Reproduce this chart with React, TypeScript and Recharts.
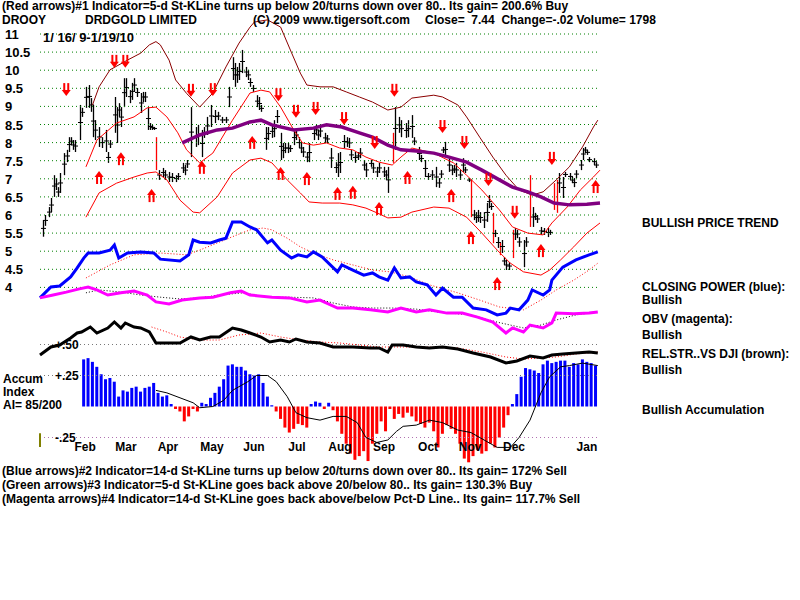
import React from "react";
import { ComposedChart, Line, Bar, Scatter, XAxis, YAxis, ReferenceLine } from "recharts";

const FONT = '"Liberation Sans", Arial, sans-serif';
const RED = "#ff0000";
const BLUE = "#0000ff";

// x = trading day counted from 1/16/09
const barDay = [1, 2, 4, 5, 6, 7, 8, 9, 11, 12, 13, 14, 15, 16, 18, 19, 21, 22, 23, 24, 25, 27, 28, 30, 31, 32, 34, 35, 36, 37, 38, 39, 41, 42, 43, 44, 46, 47, 48, 49, 50, 51, 52, 54, 56, 57, 59, 60, 62, 63, 65, 66, 67, 69, 71, 72, 74, 75, 76, 78, 80, 81, 83, 85, 86, 88, 89, 90, 91, 92, 94, 95, 96, 97, 99, 100, 101, 103, 104, 106, 107, 108, 110, 111, 112, 113, 114, 116, 117, 118, 119, 120, 122, 123, 125, 126, 127, 128, 130, 131, 133, 135, 136, 137, 139, 140, 141, 142, 144, 145, 146, 148, 149, 151, 152, 154, 155, 157, 158, 159, 162, 164, 165, 167, 168, 170, 171, 173, 174, 176, 177, 179, 181, 182, 183, 184, 185, 187, 188, 189, 190, 192, 193, 194, 196, 198, 199, 200, 201, 203, 204, 205, 206, 208, 209, 211, 212, 213, 214, 217, 218, 219, 221, 222, 225, 226, 227, 229, 230, 232, 233, 237, 239, 240, 242, 243, 244, 245, 247, 248, 249, 250, 251, 253, 254];
const barHigh = [5.86, 6.0, 6.22, 6.47, 7.1, 7.02, 6.77, 7.16, 7.71, 7.8, 8.15, 8.15, 8.07, 8.07, 9.04, 8.96, 9.54, 9.59, 9.23, 9.04, 8.62, 8.43, 8.15, 8.35, 7.74, 8.07, 9.26, 8.98, 9.09, 8.98, 9.78, 9.78, 9.45, 9.65, 9.78, 9.51, 9.37, 9.4, 9.4, 8.98, 8.54, 8.49, 8.43, 7.24, 7.3, 7.24, 7.19, 7.16, 7.1, 7.16, 7.44, 7.38, 7.52, 8.98, 8.43, 8.49, 8.35, 8.43, 8.71, 9.04, 8.9, 8.85, 8.71, 8.71, 9.54, 10.36, 10.2, 10.09, 10.2, 10.56, 10.09, 10.01, 9.78, 9.59, 9.31, 9.26, 9.04, 8.43, 8.43, 8.49, 8.62, 8.9, 8.27, 7.99, 7.99, 7.99, 7.93, 8.35, 8.35, 8.15, 7.99, 7.88, 7.74, 7.99, 8.43, 8.49, 8.35, 8.49, 8.27, 8.21, 7.85, 7.46, 7.71, 7.74, 8.21, 8.15, 8.13, 7.8, 7.74, 7.74, 7.85, 7.52, 7.44, 7.52, 7.44, 7.33, 7.44, 7.33, 7.24, 7.33, 8.98, 8.71, 8.62, 8.54, 8.62, 8.76, 8.15, 7.88, 7.66, 7.52, 7.16, 7.24, 7.33, 7.02, 7.24, 7.88, 8.02, 7.57, 7.38, 7.38, 7.44, 7.24, 7.57, 7.33, 7.02, 6.14, 6.08, 6.14, 6.08, 6.08, 6.33, 6.55, 6.33, 5.59, 5.39, 5.31, 4.84, 4.76, 4.7, 5.64, 5.59, 5.39, 5.31, 5.39, 6.22, 6.06, 6.0, 5.67, 5.64, 5.64, 5.59, 7.16, 7.05, 7.19, 7.16, 7.05, 7.02, 7.24, 7.52, 7.85, 7.88, 7.8, 7.6, 7.57, 7.46];
const barLow = [5.4, 5.7, 5.94, 6.08, 6.5, 6.69, 6.5, 6.61, 7.1, 7.46, 7.74, 7.93, 7.8, 7.74, 8.07, 8.71, 8.96, 8.96, 8.85, 8.15, 8.07, 7.88, 7.85, 7.74, 7.44, 7.85, 8.27, 7.99, 8.71, 8.43, 8.98, 9.26, 9.09, 9.18, 9.4, 9.26, 8.82, 9.12, 9.12, 8.35, 8.35, 8.35, 8.35, 6.97, 7.05, 6.97, 6.91, 6.91, 6.91, 6.97, 7.16, 7.1, 7.3, 7.6, 7.88, 7.93, 7.6, 8.13, 8.21, 8.43, 8.54, 8.62, 8.54, 8.54, 8.98, 9.73, 9.54, 9.65, 9.73, 9.92, 9.81, 9.73, 9.54, 9.4, 8.98, 8.9, 8.85, 7.8, 8.07, 8.13, 8.15, 8.54, 7.52, 7.57, 7.71, 7.71, 7.74, 7.93, 8.07, 7.85, 7.71, 7.6, 7.46, 7.46, 8.07, 8.21, 8.07, 8.15, 7.99, 7.99, 7.3, 7.16, 7.05, 7.16, 7.85, 7.88, 7.85, 7.52, 7.44, 7.52, 7.57, 7.24, 7.05, 7.33, 7.16, 7.05, 7.16, 7.05, 6.97, 6.61, 7.8, 8.27, 8.15, 8.13, 8.15, 8.13, 7.93, 7.52, 7.46, 7.05, 6.97, 6.97, 6.77, 6.75, 7.02, 7.71, 7.6, 7.19, 7.1, 7.16, 7.05, 6.97, 7.19, 7.16, 6.91, 5.86, 5.78, 5.81, 5.78, 5.64, 5.81, 6.19, 6.14, 5.39, 5.09, 4.95, 4.62, 4.48, 4.48, 5.31, 5.36, 5.12, 4.56, 5.12, 5.67, 5.86, 5.78, 5.45, 5.45, 5.39, 5.45, 6.61, 6.47, 7.05, 6.97, 6.88, 6.77, 7.02, 7.24, 7.52, 7.71, 7.66, 7.46, 7.38, 7.3];

// bars drawn red on signal days
const sigDay = [53, 161, 197, 207, 210, 216, 224, 235, 236];
const sigHigh = [8.15, 8.27, 6.97, 6.06, 5.23, 5.59, 7.1, 6.88, 6.97];
const sigLow = [7.24, 7.44, 5.94, 5.22, 4.89, 4.81, 5.67, 6.14, 6.06];

const downDay = [12, 34, 39, 69, 79, 109, 117, 126, 139, 153, 162, 184, 194, 205, 217, 234];
const downVal = [9.45, 10.23, 10.23, 9.43, 9.45, 9.31, 8.85, 8.93, 8.65, 7.99, 9.43, 8.43, 7.99, 6.97, 6.06, 7.55];
const upDay = [27, 37, 51, 74, 97, 110, 122, 136, 143, 155, 168, 188, 197, 209, 229, 254];
const upVal = [7.05, 7.57, 6.55, 7.33, 8.02, 7.16, 7.02, 6.61, 6.64, 6.19, 7.05, 6.55, 5.39, 4.12, 5.03, 6.8];

const outerDay = [24, 27, 32, 40, 46, 50, 53, 55, 59, 62, 67, 73, 79, 85, 91, 96, 98, 104, 110, 115, 119, 122, 128, 134, 140, 146, 152, 159, 165, 170, 180, 184, 191, 195, 201, 207, 213, 219, 225, 230, 236, 242, 248, 253, 255];
const outerVal = [9.04, 9.54, 10.01, 10.28, 10.47, 10.7, 10.79, 10.7, 10.28, 9.73, 9.36, 8.98, 9.37, 10.09, 10.75, 11.19, 11.33, 11.39, 11.19, 10.48, 9.92, 9.59, 9.54, 9.54, 9.4, 9.26, 9.12, 8.9, 8.98, 9.23, 9.31, 9.26, 9.04, 8.71, 8.15, 7.6, 7.1, 6.69, 6.55, 6.64, 6.97, 7.33, 7.88, 8.43, 8.62];
const upperDay = [21, 26, 35, 43, 49, 53, 58, 63, 67, 73, 79, 88, 96, 101, 105, 110, 116, 120, 125, 131, 137, 143, 149, 155, 161, 165, 170, 180, 189, 195, 202, 210, 216, 223, 230, 234, 241, 247, 253, 256];
const upperVal = [7.33, 8.07, 8.54, 8.71, 8.96, 8.98, 8.71, 8.27, 7.8, 7.44, 7.71, 8.62, 9.37, 9.45, 9.4, 8.98, 8.35, 7.99, 7.93, 7.99, 7.85, 7.8, 7.6, 7.46, 7.38, 7.6, 7.85, 7.71, 7.44, 7.1, 6.69, 6.14, 5.67, 5.5, 5.45, 5.78, 6.22, 6.69, 7.05, 7.24];
const lowerDay = [21, 27, 35, 43, 49, 53, 58, 64, 70, 73, 81, 88, 96, 101, 106, 113, 119, 123, 129, 137, 143, 149, 154, 159, 165, 170, 180, 187, 195, 202, 209, 215, 221, 229, 233, 238, 244, 250, 256];
const lowerVal = [5.94, 6.61, 6.88, 7.05, 7.16, 7.19, 6.97, 6.41, 6.08, 6.06, 6.5, 7.16, 7.52, 7.57, 7.44, 6.97, 6.61, 6.36, 6.33, 6.33, 6.28, 6.19, 6.06, 5.92, 5.94, 6.08, 6.22, 6.19, 5.94, 5.5, 5.03, 4.67, 4.43, 4.34, 4.48, 4.76, 5.12, 5.5, 5.78];
const maDay = [65, 73, 81, 88, 96, 101, 106, 116, 125, 131, 138, 146, 152, 159, 165, 172, 180, 187, 195, 202, 210, 216, 223, 229, 235, 242, 250, 256];
const maVal = [7.99, 8.21, 8.35, 8.4, 8.57, 8.62, 8.49, 8.35, 8.4, 8.49, 8.43, 8.27, 8.15, 7.93, 7.8, 7.77, 7.71, 7.6, 7.46, 7.24, 6.97, 6.77, 6.64, 6.5, 6.33, 6.28, 6.3, 6.33];

// closing power (blue), drawn on the price scale
const cpDay = [0, 5, 9, 14, 17, 20, 22, 27, 32, 34, 36, 40, 46, 52, 55, 64, 68, 70, 73, 78, 82, 85, 88, 92, 96, 99, 104, 106, 110, 115, 118, 122, 125, 129, 136, 138, 143, 148, 152, 155, 159, 162, 165, 169, 172, 177, 181, 184, 189, 193, 198, 204, 209, 213, 215, 219, 223, 225, 230, 233, 234, 239, 245, 251, 255];
const cpVal = [3.71, 4.01, 4.04, 4.29, 4.54, 4.81, 4.95, 4.95, 5.03, 5.17, 4.81, 4.95, 4.98, 4.95, 4.78, 4.73, 4.9, 5.31, 5.25, 5.23, 5.31, 5.36, 5.81, 5.81, 5.67, 5.59, 5.23, 5.31, 5.03, 4.81, 4.9, 4.84, 4.98, 4.84, 4.43, 4.62, 4.48, 4.34, 4.4, 4.29, 4.2, 4.54, 4.26, 4.29, 4.15, 4.07, 3.79, 3.98, 3.73, 3.73, 3.43, 3.38, 3.24, 3.29, 3.43, 3.38, 3.65, 3.93, 3.79, 3.93, 4.2, 4.56, 4.76, 4.9, 4.98];
const cpMaDay = [21, 32, 43, 55, 67, 73, 82, 90, 96, 102, 106, 113, 119, 125, 134, 143, 152, 160, 169, 178, 191, 201, 210, 221, 229, 236, 244, 251, 255];
const cpMaVal = [4.26, 4.62, 4.9, 4.95, 4.9, 5.03, 5.25, 5.45, 5.59, 5.64, 5.59, 5.36, 5.12, 4.95, 4.76, 4.62, 4.48, 4.43, 4.29, 4.07, 3.85, 3.65, 3.46, 3.38, 3.65, 3.93, 4.2, 4.48, 4.67];

// OBV (magenta), price scale
const obvDay = [0, 6, 12, 18, 22, 26, 31, 37, 43, 49, 53, 59, 65, 73, 79, 87, 92, 96, 106, 114, 122, 128, 136, 143, 151, 159, 165, 172, 178, 186, 193, 200, 207, 213, 216, 221, 224, 230, 234, 236, 244, 251, 255];
const obvVal = [3.71, 3.79, 3.87, 3.96, 4.01, 3.93, 3.79, 3.85, 3.9, 3.79, 3.6, 3.54, 3.65, 3.71, 3.73, 3.85, 3.9, 3.79, 3.73, 3.71, 3.6, 3.65, 3.43, 3.43, 3.38, 3.32, 3.43, 3.32, 3.38, 3.29, 3.29, 3.18, 3.04, 2.74, 2.88, 2.77, 2.96, 2.88, 3.02, 3.29, 3.27, 3.29, 3.32];
const obvMaDay = [21, 27, 37, 46, 55, 64, 73, 82, 93, 104, 114, 125, 134, 143, 152, 161, 172, 182, 197, 209, 221, 229, 236, 245, 255];
const obvMaVal = [3.85, 3.93, 3.87, 3.79, 3.73, 3.68, 3.71, 3.79, 3.85, 3.73, 3.73, 3.71, 3.57, 3.46, 3.43, 3.43, 3.4, 3.32, 3.24, 3.04, 2.88, 2.96, 3.1, 3.24, 3.32];

// relative strength vs DJI
const rsDay = [0, 5, 9, 14, 17, 19, 23, 26, 31, 34, 37, 39, 43, 46, 50, 53, 58, 64, 69, 73, 78, 82, 88, 92, 96, 101, 105, 110, 114, 117, 122, 128, 134, 138, 143, 151, 155, 159, 161, 166, 172, 178, 184, 191, 198, 206, 213, 218, 224, 230, 234, 239, 245, 251, 255];
const rsVal = [0.95, 0.99, 1.0, 1.035, 1.06, 1.065, 1.09, 1.06, 1.085, 1.115, 1.085, 1.11, 1.09, 1.085, 1.065, 1.01, 1.01, 1.01, 1.04, 1.025, 1.04, 1.04, 1.085, 1.075, 1.06, 1.04, 1.015, 1.025, 1.015, 1.03, 1.015, 1.01, 0.99, 0.99, 0.99, 0.985, 0.985, 0.965, 1.0, 1.0, 0.99, 0.985, 0.99, 0.98, 0.96, 0.94, 0.91, 0.92, 0.945, 0.935, 0.95, 0.955, 0.96, 0.965, 0.96];
const rsMaDay = [51, 58, 64, 73, 82, 91, 101, 110, 119, 128, 137, 146, 155, 165, 175, 191, 202, 213, 221, 229, 236, 245, 255];
const rsMaVal = [1.09, 1.065, 1.04, 1.025, 1.025, 1.05, 1.06, 1.04, 1.025, 1.015, 1.01, 1.0, 0.99, 0.99, 0.99, 0.985, 0.965, 0.94, 0.93, 0.935, 0.94, 0.955, 0.965];

// accumulation index, every 2nd day from day 20
const ACC_FIRST = 20;
const ACC_STEP = 2;
const accVal = [0.38, 0.39, 0.36, 0.32, 0.26, 0.22, 0.23, 0.2, 0.08, 0.13, 0.12, 0.15, 0.16, 0.12, 0.15, 0.16, 0.19, 0.11, 0.08, 0.09, 0.02, -0.02, -0.04, -0.12, -0.08, -0.02, -0.04, 0.03, 0.02, 0.07, 0.11, 0.16, 0.22, 0.33, 0.34, 0.32, 0.32, 0.29, 0.26, 0.25, 0.26, 0.19, 0.08, 0.01, -0.04, -0.1, -0.17, -0.21, -0.18, -0.14, -0.15, -0.17, 0.02, 0.04, 0.03, -0.02, 0.03, -0.03, -0.12, -0.22, -0.3, -0.38, -0.43, -0.4, -0.36, -0.44, -0.3, -0.22, -0.12, -0.2, -0.02, -0.1, -0.06, -0.09, -0.05, -0.08, -0.12, -0.14, -0.17, -0.13, -0.2, -0.33, -0.22, -0.15, -0.18, -0.22, -0.3, -0.42, -0.45, -0.4, -0.35, -0.38, -0.36, -0.3, -0.33, -0.25, -0.17, -0.07, 0.02, 0.1, 0.24, 0.31, 0.3, 0.29, 0.27, 0.34, 0.37, 0.35, 0.36, 0.37, 0.37, 0.32, 0.35, 0.34, 0.38, 0.36, 0.35, 0.33];
const accMaDay = [53, 58, 64, 70, 73, 79, 84, 88, 95, 99, 104, 108, 113, 117, 122, 128, 134, 140, 145, 149, 154, 159, 163, 166, 172, 178, 184, 191, 197, 203, 209, 215, 219, 224, 229, 233, 238, 242, 248, 255];
const accMaVal = [0.13, 0.11, 0.07, 0.03, -0.01, 0, 0.05, 0.13, 0.2, 0.25, 0.25, 0.2, 0.08, -0.05, -0.09, -0.11, -0.08, -0.08, -0.13, -0.25, -0.29, -0.27, -0.2, -0.16, -0.15, -0.11, -0.13, -0.19, -0.21, -0.27, -0.33, -0.33, -0.25, -0.11, 0.11, 0.24, 0.32, 0.33, 0.35, 0.33];

const priceTicks = [4, 4.5, 5, 5.5, 6, 6.5, 7, 7.5, 8, 8.5, 9, 9.5, 10, 10.5, 11];
const accTicks = [0.5, 0.25, -0.25];
const monthTicks = [20.6, 39.3, 58.5, 78.6, 97.8, 117.5, 137.1, 157.3, 177.4, 196.6, 216.7, 250];
const monthNames = ["Feb", "Mar", "Apr", "May", "Jun", "Jul", "Aug", "Sep", "Oct", "Nov", "Dec", "Jan"];

// plot area in px, and pixel anchors for each scale
const PLOT_TOP = 0;
const PLOT_BOTTOM = 466;
function domainFrom(a: number, ya: number, b: number, yb: number): [number, number] {
  const k = (a - b) / (yb - ya);
  return [a - (PLOT_BOTTOM - ya) * k, a + (ya - PLOT_TOP) * k];
}
const priceDomain = domainFrom(11, 34, 6, 215);
const rsDomain = domainFrom(1, 345, 0.5, 445);
const accDomain = domainFrom(0.5, 344.5, -0.25, 437.5);
const dayDomain: [number, number] = [0, 256];

const pts = (days: number[], vals: number[]) => days.map((d, i) => ({ d, v: vals[i] }));

type Row = { d: number; range?: [number, number]; red?: boolean; acc?: number };
const rowMap = new Map<number, Row>();
const rowAt = (d: number) => {
  let r = rowMap.get(d);
  if (!r) {
    r = { d };
    rowMap.set(d, r);
  }
  return r;
};
barDay.forEach((d, i) => {
  rowAt(d).range = [barLow[i], barHigh[i]];
});
sigDay.forEach((d, i) => {
  const r = rowAt(d);
  r.range = [sigLow[i], sigHigh[i]];
  r.red = true;
});
accVal.forEach((v, i) => {
  rowAt(ACC_FIRST + i * ACC_STEP).acc = v;
});
const rows = [...rowMap.values()].sort((a, b) => a.d - b.d);

function PriceBar(p: any) {
  const r = p.payload;
  if (!r || !r.range || !isFinite(p.y) || !isFinite(p.height)) return null;
  const cx = Math.round(p.x + p.width / 2) + 0.5;
  const y1 = Math.min(p.y, p.y + p.height);
  const y2 = Math.max(p.y, p.y + p.height);
  const col = r.red ? RED : "#000";
  const mid = (y1 + y2) / 2;
  return (
    <g>
      <line x1={cx} x2={cx} y1={y1} y2={y2} stroke={col} strokeWidth={1.3} />
      {!r.red && <line x1={cx - 2.5} x2={cx + 2.5} y1={mid} y2={mid} stroke={col} strokeWidth={1} />}
    </g>
  );
}

// striped histogram: fixed 3px stripe, blue above zero, red below
function AccStripe(p: any) {
  const r = p.payload;
  if (!r || r.acc == null || !isFinite(p.y) || !isFinite(p.height)) return null;
  const cx = p.x + p.width / 2;
  const y1 = Math.min(p.y, p.y + p.height);
  const h = Math.abs(p.height);
  return <rect x={cx - 1.5} y={y1} width={3} height={h} fill={r.acc >= 0 ? BLUE : RED} />;
}

// double-shafted arrows, centred on the point
function DownArrow(p: any) {
  const { cx, cy } = p;
  if (!isFinite(cx) || !isFinite(cy)) return null;
  return (
    <g fill={RED}>
      <rect x={cx - 3} y={cy - 7} width={2} height={8} />
      <rect x={cx + 1} y={cy - 7} width={2} height={8} />
      <polygon points={`${cx - 4.5},${cy} ${cx + 4.5},${cy} ${cx},${cy + 6}`} />
    </g>
  );
}

function UpArrow(p: any) {
  const { cx, cy } = p;
  if (!isFinite(cx) || !isFinite(cy)) return null;
  return (
    <g fill={RED}>
      <rect x={cx - 3} y={cy - 1} width={2} height={8} />
      <rect x={cx + 1} y={cy - 1} width={2} height={8} />
      <polygon points={`${cx - 4.5},${cy} ${cx + 4.5},${cy} ${cx},${cy - 6}`} />
    </g>
  );
}

function PriceTick(p: any) {
  return (
    <text x={5} y={p.y} dy={5} fontFamily={FONT} fontWeight={700} fontSize={13} fill="#000">
      {String(p.payload.value)}
    </text>
  );
}

const tickFont = { fill: "#000", fontSize: 12, fontWeight: 700, fontFamily: FONT };

const txt: React.CSSProperties = {
  position: "absolute",
  fontFamily: FONT,
  fontWeight: 700,
  fontSize: 12,
  lineHeight: "13px",
  whiteSpace: "pre",
  color: "#000",
};

function T({ x, y, size, children }: { x: number; y: number; size?: number; children: React.ReactNode }) {
  return <div style={{ ...txt, left: x, top: y, fontSize: size ?? 12 }}>{children}</div>;
}

export default function App() {
  return (
    <div style={{ position: "absolute", left: 0, top: 0, width: 800, height: 600, background: "#fff" }}>
      <ComposedChart width={800} height={600} data={rows} margin={{ top: 0, right: 200, bottom: 134, left: 0 }}>
        <XAxis
          xAxisId="m"
          dataKey="d"
          type="number"
          domain={dayDomain}
          ticks={monthTicks}
          interval={0}
          tickFormatter={(v: number) => monthNames[monthTicks.indexOf(v)] ?? ""}
          mirror
          axisLine={false}
          tickLine={false}
          tickSize={6}
          tickMargin={9}
          tick={tickFont}
        />
        <XAxis xAxisId="bx" dataKey="d" type="number" domain={dayDomain} hide />
        <XAxis xAxisId="ax" dataKey="d" type="number" domain={dayDomain} hide />
        <YAxis
          yAxisId="price"
          type="number"
          domain={priceDomain}
          ticks={priceTicks}
          interval={0}
          width={40}
          axisLine={false}
          tickLine={false}
          tick={<PriceTick />}
        />
        <YAxis yAxisId="rs" type="number" domain={rsDomain} hide />
        <YAxis
          yAxisId="acc"
          type="number"
          domain={accDomain}
          ticks={accTicks}
          interval={0}
          mirror
          axisLine={false}
          tickLine={false}
          tickSize={6}
          tickMargin={9}
          tick={tickFont}
          tickFormatter={(v: number) => (v > 0 ? "+" : "-") + Math.abs(v).toFixed(2).slice(1)}
        />

        {priceTicks.map((t) => (
          <ReferenceLine key={t} xAxisId="m" yAxisId="price" y={t} stroke="#008000" strokeDasharray="1 3" />
        ))}
        <ReferenceLine xAxisId="m" yAxisId="acc" y={0.5} stroke="#777" strokeDasharray="1 3" />
        <ReferenceLine xAxisId="m" yAxisId="acc" y={0.25} stroke="#777" strokeDasharray="1 3" />
        <ReferenceLine xAxisId="m" yAxisId="acc" y={-0.25} stroke="#b070b0" strokeDasharray="1 3" />
        <ReferenceLine
          xAxisId="m"
          yAxisId="acc"
          segment={[{ x: 0, y: -0.215 }, { x: 0, y: -0.327 }]}
          stroke="#808000"
          strokeWidth={2}
        />

        <Bar xAxisId="ax" yAxisId="acc" dataKey="acc" barSize={2} isAnimationActive={false} shape={(p: any) => <AccStripe {...p} />} />
        <Line xAxisId="m" yAxisId="acc" data={pts(accMaDay, accMaVal)} dataKey="v" stroke="#000" strokeWidth={1} dot={false} isAnimationActive={false} />

        <Line xAxisId="m" yAxisId="price" data={pts(outerDay, outerVal)} dataKey="v" stroke="#8b0000" strokeWidth={1} dot={false} isAnimationActive={false} />
        <Line xAxisId="m" yAxisId="price" data={pts(upperDay, upperVal)} dataKey="v" stroke={RED} strokeWidth={1} dot={false} isAnimationActive={false} />
        <Line xAxisId="m" yAxisId="price" data={pts(lowerDay, lowerVal)} dataKey="v" stroke={RED} strokeWidth={1} dot={false} isAnimationActive={false} />
        <Line xAxisId="m" yAxisId="price" data={pts(maDay, maVal)} dataKey="v" stroke="#800080" strokeWidth={3.5} dot={false} isAnimationActive={false} />

        <Line xAxisId="m" yAxisId="price" data={pts(cpMaDay, cpMaVal)} dataKey="v" stroke={RED} strokeWidth={1} strokeDasharray="1 2" dot={false} isAnimationActive={false} />
        <Line xAxisId="m" yAxisId="price" data={pts(cpDay, cpVal)} dataKey="v" stroke={BLUE} strokeWidth={3} dot={false} isAnimationActive={false} />
        <Line xAxisId="m" yAxisId="price" data={pts(obvMaDay, obvMaVal)} dataKey="v" stroke="#000" strokeWidth={1} strokeDasharray="1 2" dot={false} isAnimationActive={false} />
        <Line xAxisId="m" yAxisId="price" data={pts(obvDay, obvVal)} dataKey="v" stroke="#ff00ff" strokeWidth={3} dot={false} isAnimationActive={false} />
        <Line xAxisId="m" yAxisId="rs" data={pts(rsMaDay, rsMaVal)} dataKey="v" stroke={RED} strokeWidth={1} strokeDasharray="1 2" dot={false} isAnimationActive={false} />
        <Line xAxisId="m" yAxisId="rs" data={pts(rsDay, rsVal)} dataKey="v" stroke="#000" strokeWidth={3} dot={false} isAnimationActive={false} />

        <Bar xAxisId="bx" yAxisId="price" dataKey="range" barSize={1} isAnimationActive={false} shape={(p: any) => <PriceBar {...p} />} />
        <Scatter xAxisId="m" yAxisId="price" data={pts(downDay, downVal)} dataKey="v" isAnimationActive={false} shape={(p: any) => <DownArrow {...p} />} />
        <Scatter xAxisId="m" yAxisId="price" data={pts(upDay, upVal)} dataKey="v" isAnimationActive={false} shape={(p: any) => <UpArrow {...p} />} />
      </ComposedChart>

      <T x={2} y={0}>(Red arrows)#1 Indicator=5-d St-KLine turns up below 20/turns down over 80.. Its gain= 200.6% Buy</T>
      <T x={2} y={14}>DROOY</T>
      <T x={85} y={14}>DRDGOLD LIMITED</T>
      <T x={253} y={14}>(C) 2009 www.tigersoft.com</T>
      <T x={425} y={14}>{"Close=  7.44  Change=-.02 Volume= 1798"}</T>
      <T x={43} y={31} size={13}>1/ 16/ 9-1/19/10</T>

      <T x={3} y={373}>Accum</T>
      <T x={3} y={386}>Index</T>
      <T x={3} y={399}>AI= 85/200</T>

      <T x={642} y={217}>BULLISH PRICE TREND</T>
      <T x={642} y={281}>CLOSING POWER (blue):</T>
      <T x={642} y={294}>Bullish</T>
      <T x={642} y={313}>OBV (magenta):</T>
      <T x={642} y={329}>Bullish</T>
      <T x={642} y={348}>REL.STR..VS DJI (brown):</T>
      <T x={642} y={364}>Bullish</T>
      <T x={642} y={404}>Bullish Accumulation</T>

      <T x={2} y={465}>(Blue arrows)#2 Indicator=14-d St-KLine turns up below 20/turns down over 80.. Its gain= 172% Sell</T>
      <T x={2} y={479}>(Green arrows)#3 Indicator=5-d St-KLine goes back above 20/below 80.. Its gain= 130.3% Buy</T>
      <T x={2} y={493}>(Magenta arrows)#4 Indicator=14-d St-KLine goes back above/below Pct-D Line.. Its gain= 117.7% Sell</T>
    </div>
  );
}
